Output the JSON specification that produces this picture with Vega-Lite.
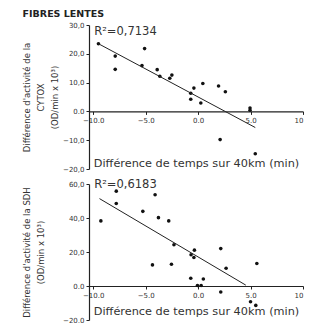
{
  "$schema": "https://vega.github.io/schema/vega-lite/v6.json",
  "padding": {"left": 22, "top": 8, "right": 5, "bottom": 0},
  "title": {"text": "FIBRES LENTES", "anchor": "start", "fontSize": 9.5, "fontWeight": "bold", "font": "DejaVu Sans", "color": "#222", "offset": 3},
  "spacing": 6,
  "config": {
    "view": {"stroke": null},
    "axis": {"grid": false, "domainColor": "#222", "tickColor": "#222", "labelColor": "#333", "titleColor": "#333", "labelFont": "DejaVu Sans", "titleFont": "DejaVu Sans", "labelFontSize": 7, "titleFontSize": 8.5, "titleFontWeight": "normal", "tickSize": 3, "domainWidth": 1.2, "labelPadding": 2, "labelOverlap": false},
    "text": {"font": "DejaVu Sans"}
  },
  "vconcat": [
    {
      "width": 214,
      "height": 144,
      "encoding": {
        "x": {"field": "x", "type": "quantitative", "scale": {"domain": [-10.4, 10], "nice": false, "zero": false},
          "axis": {"values": [-10, -5, 0, 5, 10], "labelOverlap": false, "labelExpr": "datum.value == 10 ? '10' : format(datum.value, '.1f')", "offset": -57.6, "title": "Différence de temps sur 40km (min)", "titleFontSize": 11.3, "titlePadding": 34}},
        "y": {"field": "y", "type": "quantitative", "scale": {"domain": [-20, 30], "nice": false, "zero": false},
          "axis": {"values": [-20, -10, 0, 10, 20, 30], "labelOverlap": false, "labelExpr": "datum.value == 0 ? '0.0' : replace(format(datum.value, '.1f'), '.', ',')", "title": ["Différence d'activité de la", "CYTOX", "(OD/min x 10³)"], "titlePadding": 3, "titleLineHeight": 14}}
      },
      "layer": [
        {
          "data": {"values": [
            {"x": -9.5, "y": 23.5}, {"x": -7.9, "y": 19.2}, {"x": -7.9, "y": 14.6}, {"x": -5.1, "y": 21.8},
            {"x": -5.35, "y": 15.9}, {"x": -3.9, "y": 14.5}, {"x": -3.65, "y": 12.2}, {"x": -2.7, "y": 11.5},
            {"x": -2.5, "y": 12.6}, {"x": -0.4, "y": 8.1}, {"x": -0.7, "y": 4.2}, {"x": -0.7, "y": 6.3},
            {"x": 0.26, "y": 2.9}, {"x": 0.45, "y": 9.7}, {"x": 1.95, "y": 8.8}, {"x": 2.6, "y": 6.8},
            {"x": 2.1, "y": -9.8}, {"x": 4.95, "y": 1.2}, {"x": 4.95, "y": 0.4}, {"x": 5.45, "y": -14.7}
          ]},
          "mark": {"type": "point", "filled": true, "size": 13, "color": "#111", "opacity": 1}
        },
        {
          "data": {"values": [{"x": -9.5, "y": 23.5}, {"x": 5.45, "y": -5.6}]},
          "mark": {"type": "line", "color": "#222", "strokeWidth": 1}
        },
        {
          "data": {"values": [{"x": -9.9, "y": 27.7, "t": "R²=0,7134"}]},
          "mark": {"type": "text", "align": "left", "baseline": "middle", "fontSize": 11.5, "color": "#333"},
          "encoding": {"text": {"field": "t"}}
        }
      ]
    },
    {
      "width": 214,
      "height": 136,
      "encoding": {
        "x": {"field": "x", "type": "quantitative", "scale": {"domain": [-10.4, 10], "nice": false, "zero": false},
          "axis": {"values": [-10, -5, 0, 5, 10], "labelOverlap": false, "labelExpr": "datum.value == 10 ? '10' : format(datum.value, '.1f')", "offset": -34, "title": "Différence de temps sur 40km (min)", "titleFontSize": 11.3, "titlePadding": 7}},
        "y": {"field": "y", "type": "quantitative", "scale": {"domain": [-20, 60], "nice": false, "zero": false},
          "axis": {"values": [-20, 0, 20, 40, 60], "labelOverlap": false, "labelExpr": "datum.value == 0 ? '0.0' : replace(format(datum.value, '.1f'), '.', ',')", "title": ["Différence d'activité de la SDH", "(OD/min x 10³)"], "titlePadding": 17, "titleLineHeight": 14}}
      },
      "layer": [
        {
          "data": {"values": [
            {"x": -9.27, "y": 38.3}, {"x": -7.8, "y": 55.8}, {"x": -7.8, "y": 48.5}, {"x": -5.27, "y": 43.9},
            {"x": -4.1, "y": 53.7}, {"x": -3.78, "y": 40.2}, {"x": -4.35, "y": 12.4}, {"x": -2.8, "y": 38.3},
            {"x": -2.54, "y": 12.8}, {"x": -2.3, "y": 24.3}, {"x": -0.7, "y": 4.6}, {"x": -0.67, "y": 18.4},
            {"x": -0.35, "y": 21.1}, {"x": -0.4, "y": 16.8}, {"x": 0.5, "y": 4.1}, {"x": 2.16, "y": 22.0},
            {"x": 2.16, "y": -3.5}, {"x": 2.67, "y": 10.4}, {"x": 5.0, "y": -9.3}, {"x": 5.5, "y": -11.4},
            {"x": 5.6, "y": 13.2}, {"x": -0.06, "y": 0.3}, {"x": 0.29, "y": 0.3}
          ]},
          "mark": {"type": "point", "filled": true, "size": 13, "color": "#111", "opacity": 1}
        },
        {
          "data": {"values": [{"x": -9.4, "y": 51.4}, {"x": 4.55, "y": 0.5}]},
          "mark": {"type": "line", "color": "#222", "strokeWidth": 1}
        },
        {
          "data": {"values": [{"x": -9.9, "y": 59.7, "t": "R²=0,6183"}]},
          "mark": {"type": "text", "align": "left", "baseline": "middle", "fontSize": 11.5, "color": "#333"},
          "encoding": {"text": {"field": "t"}}
        }
      ]
    }
  ]
}
